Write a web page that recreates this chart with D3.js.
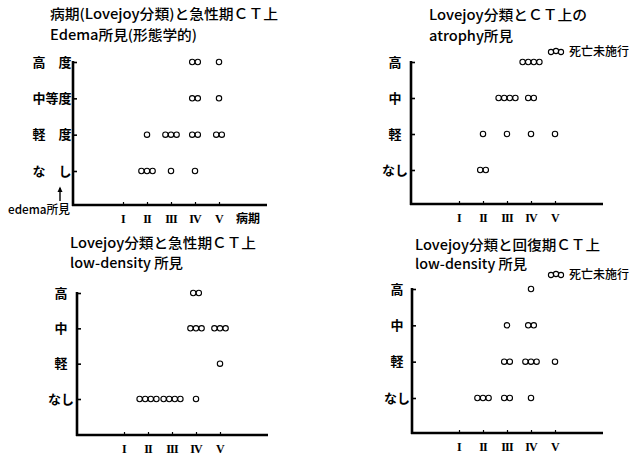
<!DOCTYPE html>
<html>
<head>
<meta charset="utf-8">
<script src="https://cdn.jsdelivr.net/npm/d3@7"></script>
<style>
  body { margin: 0; background: #fff; }
  text { fill: #000; }
</style>
</head>
<body>
<div id="chart"></div>
<script>
// stages on the x axis (Lovejoy)
var stages = ["I", "II", "III", "IV", "V"];

// level labels, bottom to top
var edemaLevels = ["な\u3000し", "軽\u3000度", "中等度", "高\u3000度"];
var shortLevels = ["なし", "軽", "中", "高"];

// counts of cases: rows = level (なし..高), cols = stage I..V
var edemaCounts = [
  [0, 3, 1, 1, 0],
  [0, 1, 3, 2, 2],
  [0, 0, 0, 2, 1],
  [0, 0, 0, 2, 1]
];
var atrophyCounts = [
  [0, 2, 0, 0, 0],
  [0, 1, 1, 1, 1],
  [0, 0, 4, 2, 0],
  [0, 0, 0, 4, 0]
];
var acuteLowCounts = [
  [0, 4, 4, 1, 0],
  [0, 0, 0, 0, 1],
  [0, 0, 0, 3, 3],
  [0, 0, 0, 2, 0]
];
var recoveryLowCounts = [
  [0, 3, 2, 1, 0],
  [0, 0, 2, 3, 1],
  [0, 0, 1, 2, 0],
  [0, 0, 0, 1, 0]
];

var width = 637, height = 457;
var jp = "'Noto Sans CJK JP', 'Noto Sans', sans-serif";

var svg = d3.select("#chart")
  .append("svg")
  .attr("width", width)
  .attr("height", height);

svg.append("rect").attr("width", width).attr("height", height).attr("fill", "#fff");

function drawPanel(p) {
  var g = svg.append("g").attr("transform", "translate(" + p.tx + "," + p.ty + ")");

  var x = d3.scalePoint().domain(stages).range([p.x0, p.x0 + 96]);
  var y = d3.scaleLinear().domain([0, 3]).range([p.span, 0]);

  // titles
  p.titles.forEach(function (t) {
    svg.append("text")
      .attr("x", t.x).attr("y", t.y)
      .attr("font-family", jp)
      .attr("font-size", 14)
      .attr("font-weight", 500)
      .attr("textLength", t.w)
      .attr("lengthAdjust", "spacingAndGlyphs")
      .text(t.text);
  });

  // y axis ticks
  var yAxis = d3.axisRight(y).tickValues([0, 1, 2, 3]).tickSize(4).tickFormat("");
  var ya = g.append("g").call(yAxis);
  ya.select(".domain").remove();
  ya.selectAll("line").attr("stroke", "#000").attr("stroke-width", 1.6);

  // x axis ticks
  var xAxis = d3.axisTop(x).tickSize(3).tickFormat("");
  var xa = g.append("g").attr("transform", "translate(0," + p.h + ")").call(xAxis);
  xa.select(".domain").remove();
  xa.selectAll("line").attr("stroke", "#000").attr("stroke-width", 1.2);

  // axis lines
  g.append("line").attr("x1", 0).attr("x2", 0).attr("y1", y(3) - 1).attr("y2", p.h + 1)
    .attr("stroke", "#000").attr("stroke-width", 2.6);
  g.append("line").attr("x1", -1).attr("x2", p.xEnd).attr("y1", p.h).attr("y2", p.h)
    .attr("stroke", "#000").attr("stroke-width", 2.6);

  // level labels
  g.selectAll(".ylab").data(p.levels).enter().append("text")
    .attr("x", p.labelDx)
    .attr("y", function (d, i) { return y(i) + 4.5; })
    .attr("text-anchor", "middle")
    .attr("font-family", jp)
    .attr("font-size", 13)
    .attr("font-weight", 700)
    .text(function (d) { return d; });

  // stage labels
  g.selectAll(".xlab").data(stages).enter().append("text")
    .attr("x", function (d) { return x(d); })
    .attr("y", p.h + 18)
    .attr("text-anchor", "middle")
    .attr("font-family", "'Liberation Serif', serif")
    .attr("font-size", 12)
    .attr("font-weight", 700)
    .attr("letter-spacing", -0.8)
    .text(function (d) { return d; });

  // dots
  var dots = [];
  p.counts.forEach(function (row, li) {
    row.forEach(function (n, si) {
      for (var k = 0; k < n; k++) {
        dots.push({ cx: x(stages[si]) + (k - (n - 1) / 2) * 5.6, cy: y(li) });
      }
    });
  });
  g.selectAll("circle.dot").data(dots).enter().append("circle")
    .attr("class", "dot")
    .attr("cx", function (d) { return d.cx; })
    .attr("cy", function (d) { return d.cy; })
    .attr("r", 2.7)
    .attr("fill", "none")
    .attr("stroke", "#000")
    .attr("stroke-width", 1.1);

  return { g: g, x: x, y: y };
}

function legend(lx, ly) {
  var lg = svg.append("g").attr("transform", "translate(" + lx + "," + ly + ")");
  [0, 5, 10].forEach(function (dx, i) {
    lg.append("circle").attr("cx", 4 + dx).attr("cy", i % 2 ? -5 : -4).attr("r", 2.6)
      .attr("fill", "none").attr("stroke", "#000").attr("stroke-width", 1.1);
  });
  lg.append("text").attr("x", 22).attr("y", 0)
    .attr("font-family", jp).attr("font-size", 12).attr("font-weight", 500)
    .attr("textLength", 60).attr("lengthAdjust", "spacingAndGlyphs")
    .text("死亡未施行");
}

// panel 1: edema
var p1 = drawPanel({
  tx: 73, ty: 62, x0: 50, span: 109, h: 143, xEnd: 194, labelDx: -21,
  levels: edemaLevels, counts: edemaCounts,
  titles: [
    { x: 50, y: 19, w: 228, text: "病期(Lovejoy分類)と急性期ＣＴ上" },
    { x: 50, y: 40, w: 147, text: "Edema所見(形態学的)" }
  ]
});
p1.g.append("text").attr("x", 175).attr("y", 143 + 18).attr("text-anchor", "middle")
  .attr("font-family", jp).attr("font-size", 12).attr("font-weight", 700).text("病期");
// small up arrow above "edema所見"
p1.g.append("line").attr("x1", -13).attr("x2", -13).attr("y1", 126).attr("y2", 139)
  .attr("stroke", "#000").attr("stroke-width", 1.4);
p1.g.append("path").attr("d", "M-15.5,130 L-13,124.5 L-10.5,130 Z").attr("fill", "#000");
p1.g.append("text").attr("x", -65).attr("y", 152)
  .attr("font-family", jp).attr("font-size", 12).attr("font-weight", 500)
  .attr("textLength", 62).attr("lengthAdjust", "spacingAndGlyphs")
  .text("edema所見");

// panel 2: atrophy
drawPanel({
  tx: 411, ty: 62, x0: 48, span: 108, h: 142, xEnd: 192, labelDx: -16,
  levels: shortLevels, counts: atrophyCounts,
  titles: [
    { x: 429, y: 20, w: 158, text: "Lovejoy分類とＣＴ上の" },
    { x: 429, y: 41, w: 84, text: "atrophy所見" }
  ]
});
legend(547, 56);

// panel 3: acute low-density
drawPanel({
  tx: 77, ty: 293, x0: 47, span: 106, h: 142, xEnd: 191, labelDx: -16,
  levels: shortLevels, counts: acuteLowCounts,
  titles: [
    { x: 70, y: 248, w: 186, text: "Lovejoy分類と急性期ＣＴ上" },
    { x: 70, y: 268, w: 113, text: "low-density 所見" }
  ]
});

// panel 4: recovery low-density
drawPanel({
  tx: 412, ty: 289, x0: 47, span: 109, h: 144, xEnd: 191, labelDx: -15,
  levels: shortLevels, counts: recoveryLowCounts,
  titles: [
    { x: 415, y: 250, w: 185, text: "Lovejoy分類と回復期ＣＴ上" },
    { x: 415, y: 269, w: 112, text: "low-density 所見" }
  ]
});
legend(547, 279);
</script>
</body>
</html>
